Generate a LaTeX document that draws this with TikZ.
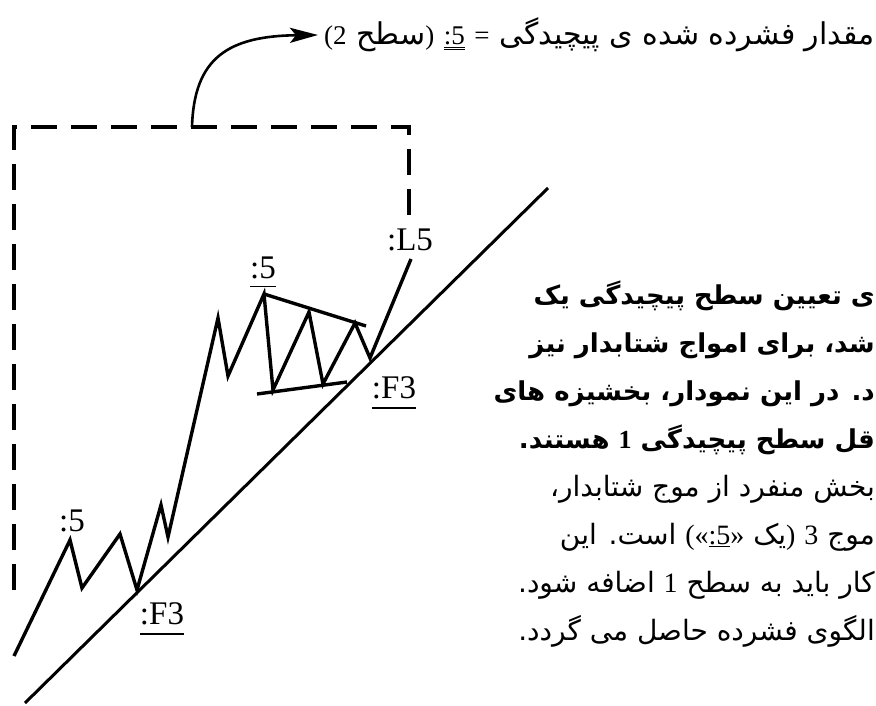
\documentclass[tikz,border=0pt]{standalone}
\usepackage{fontspec}
\setmainfont{Liberation Serif}
\newfontfamily\farsifont[Script=Arabic]{DejaVu Sans}
\TeXXeTstate=1
\usetikzlibrary{arrows.meta}
\newcommand{\lat}[1]{\hbox{\rmfamily #1}}

\begin{document}
\begin{tikzpicture}[x=1pt, y=-1pt,
    wave/.style={line width=3.4pt, line join=miter, miter limit=6},
    trend/.style={line width=3pt},
    frame/.style={line width=4pt, dash pattern=on 26pt off 14pt},
    lbl/.style={inner sep=0pt, font=\fontsize{33}{36}\selectfont},
    ul/.style={line width=1.8pt},
    fa/.style={inner sep=0pt, anchor=base east, font=\fontsize{28}{32}\farsifont},
    fab/.style={fa, font=\fontsize{26}{32}\farsifont\bfseries}]
    \useasboundingbox (0,0) rectangle (876,706);

    % Trend line
    \coordinate (t0) at (25,703);
    \coordinate (t1) at (548,188);
    \draw[trend] (t0) -- (t1);

    % Wave points
    \coordinate (w0) at (14,656);
    \coordinate (w1) at (70,540);
    \coordinate (w2) at (82,588);
    \coordinate (w3) at (120,534);
    \coordinate (w4) at (137,590);
    \coordinate (w5) at (161,505);
    \coordinate (w6) at (168,537);
    \coordinate (w7) at (218,318);
    \coordinate (w8) at (228,376);
    \coordinate (w9) at (264,294);
    \coordinate (w10) at (273,390);
    \coordinate (w11) at (309,312);
    \coordinate (w12) at (323,384);
    \coordinate (w13) at (355,323);
    \coordinate (w14) at (370,358);
    \coordinate (w15) at (411,259);
    \draw[wave] (w0) -- (w1) -- (w2) -- (w3) -- (w4) -- (w5) -- (w6) -- (w7) -- (w8)
        -- (w9) -- (w10) -- (w11) -- (w12) -- (w13) -- (w14) -- (w15);

    % Triangle borders
    \coordinate (u1) at (366,326);
    \coordinate (l0) at (257,394);
    \coordinate (l1) at (347,382);
    \draw[wave] (w9) -- (u1);
    \draw[wave] (l0) -- (l1);

    % Dashed frame
    \coordinate (b0) at (14,590);
    \coordinate (b1) at (14,127);
    \coordinate (b2) at (409,127);
    \coordinate (b3) at (409,215);
    \coordinate (a0) at (192,127);
    \draw[frame] (b0) -- (b1) -- (b2) -- (b3);

    % Labels
    \node[lbl] (p1) at (72,521) {:5};
    \node[lbl] (p2) at (263,268) {:5};
    \node[lbl] (l5) at (410,240) {:L5};
    \node[lbl] (f3u) at (394,388) {:F3};
    \node[lbl] (f3l) at (162,614) {:F3};
    \draw[ul] ([yshift=-8pt]p2.base west) -- ([yshift=-8pt]p2.base east);
    \draw[ul] ([yshift=-9pt]f3u.base west) -- ([yshift=-9pt]f3u.base east);
    \draw[ul] ([yshift=-9pt]f3l.base west) -- ([yshift=-9pt]f3l.base east);

    % Summary on top
    \node[fa, font=\fontsize{30}{32}\farsifont] (summary) at (875,45)
        {\beginR مقدار فشرده شده ی پیچیدگی \lat{\fontsize{27}{30}\selectfont =} \lat{\fontsize{27}{30}\selectfont$\underline{\underline{\hbox{:5}}}$} \lat{\fontsize{27}{30}\selectfont )}سطح \lat{\fontsize{27}{30}\selectfont (2}\endR};
    \draw[line width=2.6pt, -{Stealth[length=28pt, width=15pt, inset=6pt]}]
        (a0) .. controls (194,58) and (228,36) .. ([xshift=-6pt]summary.base west |- 0,35);

    % Text on the right
    \node[fab] (tx1) at (875,304) {\beginR ی تعیین سطح پیچیدگی یک\endR};
    \node[fab] (tx2) at (875,352) {\beginR شد، برای امواج شتابدار نیز\endR};
    \node[fab] (tx3) at (875,400) {\beginR د. در این نمودار، بخشیزه های\endR};
    \node[fab] (tx4) at (875,448) {\beginR قل سطح پیچیدگی \lat{1} هستند.\endR};
    \node[fa] (tx5) at (875,496) {\beginR بخش منفرد از موج شتابدار،\endR};
    \node[fa] (tx6) at (875,544) {\beginR موج \lat{3} \lat{)}یک \lat{»$\underline{\hbox{:5}}$(«} است. این\endR};
    \node[fa] (tx7) at (875,592) {\beginR کار باید به سطح \lat{1} اضافه شود.\endR};
    \node[fa] (tx8) at (875,640) {\beginR الگوی فشرده حاصل می گردد.\endR};
\end{tikzpicture}
\end{document}
